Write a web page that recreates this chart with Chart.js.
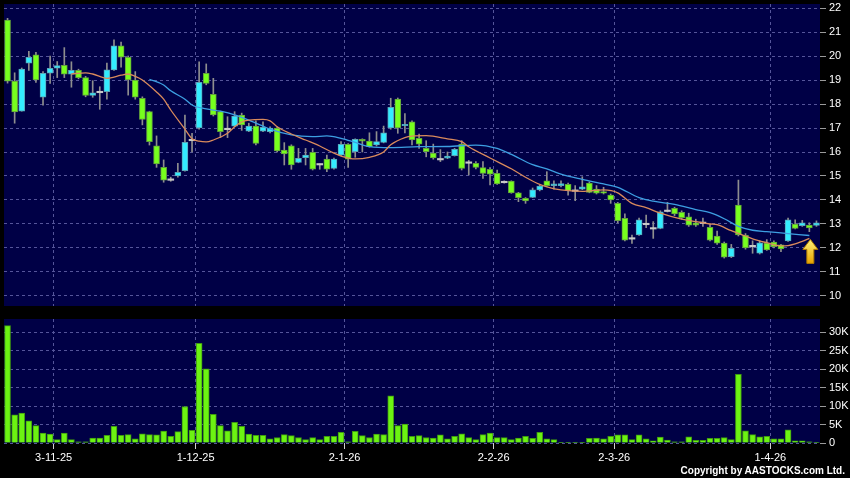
<!DOCTYPE html>
<html>
<head>
<meta charset="utf-8">
<script src="https://cdn.jsdelivr.net/npm/chart.js@4"></script>
<style>
  html, body { margin: 0; padding: 0; background: #000; }
  #wrap { position: relative; width: 850px; height: 478px; background: #000; overflow: hidden; }
  #priceChart { position: absolute; left: 0; top: 0; }
  #volumeChart { position: absolute; left: 0; top: 310px; }
  #copyright { position: absolute; right: 5px; top: 465px; color: #fff; font: bold 10px "Liberation Sans", Arial, sans-serif; letter-spacing: 0; }
</style>
</head>
<body>
<div id="wrap">
  <canvas id="priceChart" width="850" height="310"></canvas>
  <canvas id="volumeChart" width="850" height="168"></canvas>
  <div id="copyright">Copyright by AASTOCKS.com Ltd.</div>
</div>
<script>
// daily candles, 22-10-25 .. early 4-26
const opens = [
  21.5, 18.96, 17.7, 19.7, 20.05, 18.28, 19.28, 19.49, 19.61, 19.24,
  19.4, 19.1, 18.36, 18.5, 18.51, 19.42, 20.42, 19.95, 19.0, 18.24,
  17.68, 16.26, 15.36, 14.85, 15.0, 15.22, 16.5, 17.0, 19.28, 18.4,
  17.68, 16.96, 17.08, 17.54, 16.87, 17.08, 16.87, 16.85, 17.0, 16.08,
  16.26, 15.57, 15.76, 15.99, 15.49, 15.7, 15.32, 15.87, 16.32, 16.01,
  16.53, 16.46, 16.29, 16.4, 17.0, 18.2, 17.1, 17.26, 16.57, 16.15,
  15.96, 15.7, 15.74, 15.85, 16.33, 15.56, 15.53, 15.35, 15.28, 15.11,
  14.75, 14.79, 14.3, 14.07, 14.11, 14.42, 14.8, 14.6, 14.6, 14.65,
  14.39, 14.45, 14.7, 14.45, 14.35, 14.21, 13.86, 13.24, 12.4, 12.54,
  13.0, 12.82, 12.82, 13.55, 13.65, 13.49, 13.3, 13.05, 13.05, 12.86,
  12.5, 12.2, 11.64, 13.79, 12.53, 12.08, 11.78, 12.2, 12.25, 12.13,
  12.29, 13.0, 12.93, 12.96, 12.94
];
const highs = [
  21.57, 19.3, 19.5, 20.2, 20.15, 19.35, 20.0, 19.77, 20.35, 19.76,
  19.45, 19.15, 18.97, 18.72, 19.7, 20.67, 20.58, 20.0, 19.35, 18.3,
  17.7, 16.67, 15.67, 14.95, 15.53, 17.54, 16.78, 19.76, 19.67, 19.07,
  17.7, 17.47, 17.68, 17.62, 17.2, 17.3, 17.26, 17.05, 17.05, 16.39,
  16.3, 16.15, 16.15, 16.15, 15.5, 15.87, 15.75, 16.43, 16.35, 16.55,
  16.55, 16.8, 16.85, 17.08, 18.24, 18.25, 17.6, 17.3, 16.75, 16.47,
  16.33, 16.1, 16.0, 16.15, 16.47, 15.65, 15.6, 15.6, 15.35, 15.25,
  14.8, 14.8, 14.32, 14.1, 14.5, 14.62, 15.18, 14.8, 14.8, 14.7,
  14.6, 14.97, 14.75, 14.6, 14.53, 14.25, 13.9, 13.42, 12.54, 13.25,
  13.37, 13.1, 13.55, 13.9, 13.7, 13.55, 13.45, 13.2, 13.25, 13.0,
  12.71, 12.25, 12.15, 14.83, 12.6, 12.3, 12.3, 12.35, 12.3, 12.15,
  13.25, 13.17, 13.15, 13.05, 13.13
];
const lows = [
  18.87, 17.2, 17.7, 19.4, 18.9, 17.95, 18.86, 19.1, 19.1, 18.7,
  19.05, 18.3, 18.28, 17.78, 18.2, 19.4, 19.53, 18.37, 18.2, 17.13,
  16.29, 15.36, 14.74, 14.78, 14.95, 15.2, 16.0, 16.95, 18.8, 17.5,
  16.6, 16.6, 17.05, 16.9, 16.85, 16.3, 16.85, 16.8, 16.0, 15.46,
  15.28, 15.55, 15.46, 15.25, 15.28, 15.18, 15.28, 15.85, 15.36, 15.78,
  16.0, 16.2, 16.25, 16.38, 16.95, 16.78, 16.8, 16.29, 16.15, 15.8,
  15.7, 15.6, 15.72, 15.83, 15.25, 15.04, 15.3, 14.9, 14.63, 14.65,
  14.7, 14.28, 13.93, 13.86, 14.1, 14.38, 14.57, 14.45, 14.55, 14.2,
  13.97, 14.43, 14.3, 14.25, 14.25, 13.86, 13.05, 12.3, 12.19, 12.52,
  12.85, 12.4, 12.8, 13.5, 13.35, 13.2, 12.9, 12.9, 12.9, 12.3,
  12.15, 11.58, 11.6, 12.5, 11.95, 11.78, 11.75, 11.9, 12.0, 11.85,
  12.27, 12.8, 12.9, 12.68, 12.9
];
const closes = [
  18.95, 17.67, 19.45, 19.95, 19.0, 19.28, 19.49, 19.6, 19.24, 19.4,
  19.1, 18.36, 18.47, 18.5, 19.42, 20.42, 19.95, 19.0, 18.28, 17.36,
  16.43, 15.5, 14.83, 14.85, 15.15, 16.4, 16.5, 18.9, 18.86, 17.54,
  16.85, 16.96, 17.5, 17.13, 17.08, 16.36, 17.03, 17.0, 16.05, 15.92,
  15.46, 15.74, 15.87, 15.28, 15.49, 15.28, 15.7, 16.32, 15.7, 16.53,
  16.45, 16.22, 16.43, 16.8, 17.86, 17.0, 17.15, 16.5, 16.33, 16.01,
  15.75, 15.7, 15.83, 16.11, 15.32, 15.56, 15.36, 15.11, 15.08, 14.67,
  14.75, 14.3, 14.1, 13.96, 14.42, 14.58, 14.6, 14.67, 14.68, 14.39,
  14.39, 14.55, 14.32, 14.28, 14.28, 14.0, 13.14, 12.33, 12.4, 13.17,
  13.0, 12.82, 13.51, 13.55, 13.42, 13.26, 12.95, 12.95, 13.05, 12.33,
  12.2, 11.62, 11.99, 12.54, 12.0, 12.08, 12.22, 11.92, 12.06, 11.96,
  13.17, 12.82, 13.05, 12.84, 13.05
];
// volume in thousands
const volumes = [
  31.8, 7.6, 8.1, 6.0, 4.7, 2.7, 2.4, 0.9, 2.7, 0.9,
  0.3, 0.3, 1.35, 1.35, 2.1, 4.5, 2.1, 2.25, 1.1, 2.5,
  2.25, 2.2, 3.2, 1.8, 3.1, 9.9, 3.4, 27.0, 20.1, 7.8,
  4.7, 3.3, 5.6, 4.5, 2.4, 2.1, 2.1, 1.1, 1.5, 2.25,
  2.0, 1.5, 0.9, 1.45, 0.9, 1.8, 1.8, 2.9, 0.3, 3.15,
  2.0, 1.5, 2.4, 2.25, 12.8, 4.7, 5.1, 1.8, 2.0, 1.5,
  1.35, 2.2, 1.1, 1.8, 2.5, 1.45, 0.9, 2.25, 2.7, 1.45,
  1.45, 0.9, 1.35, 1.8, 1.25, 2.9, 1.1, 0.9, 0.1, 0.1,
  0.2, 0.2, 1.25, 1.35, 1.1, 1.8, 2.2, 2.2, 0.9, 2.2,
  1.1, 0.6, 1.6, 0.8, 0.3, 0.3, 1.7, 0.7, 0.7, 1.25,
  1.25, 1.45, 0.9, 18.6, 3.3, 2.25, 1.7, 1.8, 1.1, 1.1,
  3.6, 0.6, 0.6, 0.35, 0.1
];

// moving averages (candle index -> price)
const maShortIdx = [9, 11, 12, 14, 16, 17, 18, 19, 21, 22, 23, 25, 26, 27, 28, 29, 31, 32, 33, 34,
  36, 37, 38, 40, 42, 44, 46, 47, 49, 51, 53, 54, 56, 57, 59, 62, 64, 65, 68, 71,
  73, 75, 76, 78, 81, 84, 86, 88, 90, 92, 95, 97, 99, 100, 102, 104, 105, 107, 109, 110,
  111, 112, 113];
const maShortVal = [19.25, 19.3, 19.25, 19.07, 19.2, 19.25, 19.15, 19.0, 18.5, 18.2, 17.75, 16.95, 16.55, 16.45, 16.42, 16.5, 16.78, 17.05, 17.25, 17.33,
  17.36, 17.3, 17.05, 16.75, 16.5, 16.25, 15.95, 15.83, 15.71, 15.78, 16.0, 16.3, 16.6, 16.66, 16.68, 16.55, 16.43, 16.22, 15.75, 15.3,
  14.95, 14.65, 14.55, 14.42, 14.36, 14.42, 14.3, 13.86, 13.68, 13.45, 13.2, 13.1, 13.0, 12.97, 12.72, 12.5, 12.38, 12.22, 12.09, 12.1,
  12.17, 12.28, 12.4];
const maLongIdx = [20, 22, 23, 25, 26, 28, 30, 32, 34, 36, 37, 40, 43, 45, 47, 49, 51, 54, 58, 62,
  66, 69, 71, 74, 76, 78, 81, 84, 86, 89, 91, 94, 97, 99, 101, 103, 105, 107, 110, 113];
const maLongVal = [19.03, 18.79, 18.55, 18.2, 17.96, 17.8, 17.7, 17.55, 17.33, 17.08, 16.95, 16.71, 16.64, 16.67, 16.57, 16.4, 16.22, 16.18, 16.22, 16.23,
  16.29, 16.15, 15.9, 15.47, 15.3, 15.08, 14.86, 14.67, 14.53, 14.1, 13.95, 13.82, 13.6, 13.47, 13.22, 12.9, 12.74, 12.68, 12.6, 12.52];

// month boundaries on the candle index axis
const dateTickPos = [6.5, 26.5, 47.5, 68.5, 85.5, 107.5];
const dateTickLabels = ['3-11-25', '1-12-25', '2-1-26', '2-2-26', '2-3-26', '1-4-26'];
const priceTicks = [10, 11, 12, 13, 14, 15, 16, 17, 18, 19, 20, 21, 22];
const volumeTicks = [0, 5, 10, 15, 20, 25, 30];

const PANEL = '#000046';
const GRID = '#55559a';
const UP = '#33ecff', UP_EDGE = '#5aa6b8';
const DOWN = '#77ff1e', DOWN_EDGE = '#62a03c';
const FLAT = '#c8c8c8';
const WICK = '#8e8e8e';

Chart.defaults.font.family = '"Liberation Sans", Arial, sans-serif';
Chart.defaults.font.size = 11;
Chart.defaults.color = '#ffffff';
Chart.defaults.animation = false;

function candleFill(i) {
  if (closes[i] > opens[i]) return UP;
  if (closes[i] < opens[i]) return DOWN;
  return FLAT;
}
function candleEdge(i) {
  if (closes[i] > opens[i]) return UP_EDGE;
  if (closes[i] < opens[i]) return DOWN_EDGE;
  return FLAT;
}

const panelBg = {
  id: 'panelBg',
  beforeDraw(chart) {
    const { ctx, chartArea: a } = chart;
    ctx.save();
    ctx.fillStyle = PANEL;
    ctx.fillRect(a.left, a.top, a.right - a.left, a.bottom - a.top);
    ctx.restore();
  }
};

// yellow marker under the last MA point
const arrowMark = {
  id: 'arrowMark',
  afterDatasetsDraw(chart) {
    const { ctx } = chart;
    const last = maShortIdx.length - 1;
    const x = chart.scales.x.getPixelForValue(maShortIdx[last]) + 1;
    const top = chart.scales.y.getPixelForValue(maShortVal[last]) + 1;
    const g = ctx.createLinearGradient(0, top, 0, top + 24);
    g.addColorStop(0, '#fff27a');
    g.addColorStop(1, '#e8a400');
    ctx.save();
    ctx.beginPath();
    ctx.moveTo(x, top);
    ctx.lineTo(x + 7.5, top + 10);
    ctx.lineTo(x + 3.5, top + 10);
    ctx.lineTo(x + 3.5, top + 24);
    ctx.lineTo(x - 3.5, top + 24);
    ctx.lineTo(x - 3.5, top + 10);
    ctx.lineTo(x - 7.5, top + 10);
    ctx.closePath();
    ctx.fillStyle = g;
    ctx.fill();
    ctx.strokeStyle = '#b07a00';
    ctx.lineWidth = 1;
    ctx.stroke();
    ctx.restore();
  }
};

const xAxisBase = {
  type: 'linear',
  min: -0.5,
  max: 114.5,
  offset: false,
  afterBuildTicks: s => { s.ticks = dateTickPos.map(v => ({ value: v })); },
  border: { display: false, dash: [3, 3] },
};

new Chart(document.getElementById('priceChart'), {
  type: 'bar',
  data: {
    datasets: [
      {
        type: 'line',
        label: 'MA10',
        data: maShortIdx.map((x, i) => ({ x, y: maShortVal[i] })),
        borderColor: '#d98a5c',
        borderWidth: 1.3,
        pointRadius: 0,
        cubicInterpolationMode: 'monotone',
        order: 0
      },
      {
        type: 'line',
        label: 'MA20',
        data: maLongIdx.map((x, i) => ({ x, y: maLongVal[i] })),
        borderColor: '#3d9fe2',
        borderWidth: 1.3,
        pointRadius: 0,
        cubicInterpolationMode: 'monotone',
        order: 0
      },
      {
        label: 'Body',
        data: opens.map((o, i) => ({ x: i, y: o === closes[i] ? [o - 0.03, o + 0.03] : [o, closes[i]] })),
        backgroundColor: c => candleFill(c.dataIndex),
        borderColor: c => candleEdge(c.dataIndex),
        borderWidth: c => (opens[c.dataIndex] === closes[c.dataIndex] ? 0 : 1),
        borderSkipped: false,
        barThickness: 6,
        grouped: false,
        order: 1
      },
      {
        label: 'Wick',
        data: lows.map((l, i) => ({ x: i, y: [l, highs[i]] })),
        backgroundColor: WICK,
        borderWidth: 0,
        barThickness: 1,
        grouped: false,
        order: 2
      }
    ]
  },
  options: {
    responsive: false,
    events: [],
    layout: { padding: { left: 4, top: 4, bottom: 4, right: 0 } },
    plugins: { legend: { display: false }, tooltip: { enabled: false } },
    scales: {
      x: {
        ...xAxisBase,
        afterFit: s => { s.height = 0; s.paddingLeft = 0; s.paddingRight = 0; },
        ticks: { display: false },
        grid: { color: GRID, drawTicks: false, offset: false }
      },
      y: {
        position: 'right',
        min: 9.583,
        max: 22.167,
        afterBuildTicks: s => { s.ticks = priceTicks.map(v => ({ value: v })); },
        afterFit: s => { s.width = 30; s.paddingTop = 0; s.paddingBottom = 0; },
        border: { display: false, dash: [3, 3] },
        grid: { color: GRID, tickColor: '#9a9a9a', tickLength: 6, tickBorderDash: [] },
        ticks: { color: '#ffffff', padding: 3, callback: v => String(v) }
      }
    }
  },
  plugins: [panelBg, arrowMark]
});

new Chart(document.getElementById('volumeChart'), {
  type: 'bar',
  data: {
    datasets: [{
      label: 'Volume',
      data: volumes.map((v, i) => ({ x: i, y: v })),
      backgroundColor: '#6cf312',
      borderColor: '#3f9a10',
      borderWidth: 1,
      borderSkipped: 'bottom',
      barThickness: 6
    }]
  },
  options: {
    responsive: false,
    events: [],
    layout: { padding: { left: 4, top: 9, bottom: 0, right: 0 } },
    plugins: { legend: { display: false }, tooltip: { enabled: false } },
    scales: {
      x: {
        ...xAxisBase,
        afterFit: s => { s.height = 35; s.paddingLeft = 0; s.paddingRight = 0; },
        grid: { color: GRID, tickColor: '#d0d0d0', tickLength: 6, tickBorderDash: [], offset: false },
        ticks: {
          color: '#ffffff',
          padding: 2,
          maxRotation: 0,
          autoSkip: false,
          callback: v => dateTickLabels[dateTickPos.indexOf(v)] || ''
        }
      },
      y: {
        position: 'right',
        min: 0,
        max: 33.6,
        afterBuildTicks: s => { s.ticks = volumeTicks.map(v => ({ value: v })); },
        afterFit: s => { s.width = 30; s.paddingTop = 0; s.paddingBottom = 0; },
        border: { display: false, dash: [3, 3] },
        grid: { color: GRID, tickColor: '#9a9a9a', tickLength: 6, tickBorderDash: [] },
        ticks: { color: '#ffffff', padding: 3, callback: v => (v === 0 ? '0' : v + 'K') }
      }
    }
  },
  plugins: [panelBg]
});
</script>
</body>
</html>
